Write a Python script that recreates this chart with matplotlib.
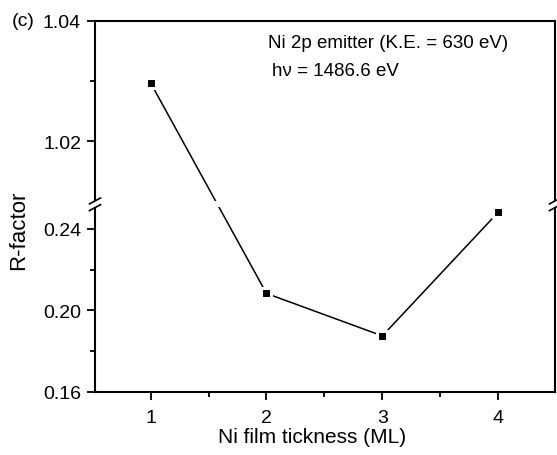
import matplotlib
matplotlib.use('Agg')
import matplotlib.pyplot as plt
import numpy as np
from matplotlib.patches import Rectangle

plt.rcParams['font.family'] = ['Liberation Sans', 'DejaVu Sans']

# data
thickness = [1, 2, 3, 4]
rfactor = [1.0297, 0.2083, 0.1875, 0.2481]

# broken axis: lower part 0.16..B, upper part U0..1.04
B = 0.252
U0 = 1.0095
r = 2.945
eps = 1e-6


def fwd(y):
    y = np.asarray(y, dtype=float)
    mid = B + (y - B) * eps
    top = B + (U0 - B) * eps + (y - U0) * r
    return np.where(y <= B, y, np.where(y < U0, mid, top))


def inv(t):
    t = np.asarray(t, dtype=float)
    tm = B + (U0 - B) * eps
    mid = B + (t - B) / eps
    top = U0 + (t - tm) / r
    return np.where(t <= B, t, np.where(t < tm, mid, top))


W, H = 557, 456
fig = plt.figure(figsize=(W / 100, H / 100), dpi=100)
ax = fig.add_axes([95 / W, 63 / H, 460 / W, 371 / H])
ax.set_yscale('function', functions=(fwd, inv))

ax.plot(thickness, rfactor, color='black', lw=1.1, marker='s', ms=6.5,
        mfc='black', mec='white', mew=2.2)

ax.set_xlim(0.52, 4.49)
ax.set_ylim(0.16, 1.04)

ax.set_xticks([1, 2, 3, 4])
ax.set_xticks([1.5, 2.5, 3.5], minor=True)
ax.set_yticks([0.16, 0.20, 0.24, 1.02, 1.04])
ax.set_yticklabels(['0.16', '0.20', '0.24', '1.02', '1.04'])
ax.set_yticks([0.18, 0.22, 1.03], minor=True)
ax.tick_params(which='both', direction='out', labelsize=14, width=1.3,
               top=False, right=False)
ax.tick_params(which='major', length=5.5)
ax.tick_params(which='minor', length=3.5)
ax.tick_params(axis='y', which='major', pad=4.5)
ax.tick_params(axis='x', which='major', pad=6.5)
for s in ax.spines.values():
    s.set_linewidth(1.5)

fig.text(312.5 / W, 1 - 438 / H, 'Ni film tickness (ML)', fontsize=15,
         ha='center', va='center')
fig.text(18.5 / W, 1 - 230 / H, 'R-factor', fontsize=16, rotation=90,
         ha='center', va='center')

# break marks
yb = (B - 0.16) / (fwd(1.04) - 0.16)
ax.add_patch(Rectangle((-0.02, yb - 0.008), 1.04, 0.016, transform=ax.transAxes,
                       facecolor='white', edgecolor='none', zorder=3, clip_on=False))
for x0 in (0.0, 1.0):
    for dy in (-0.009, 0.009):
        ax.plot([x0 - 0.012, x0 + 0.012], [yb + dy - 0.008, yb + dy + 0.008],
                color='black', lw=1.2, transform=ax.transAxes, clip_on=False, zorder=4)

fig.text(268 / W, 1 - 43 / H, 'Ni 2p emitter (K.E. = 630 eV)',
         fontsize=13.5, va='center', ha='left')
fig.text(272 / W, 1 - 72 / H, 'h\u03bd = 1486.6 eV',
         fontsize=13.5, va='center', ha='left')
fig.text(12 / W, 1 - 22 / H, '(c)', fontsize=14, va='center', ha='left')

fig.savefig('out.png', dpi=100)
